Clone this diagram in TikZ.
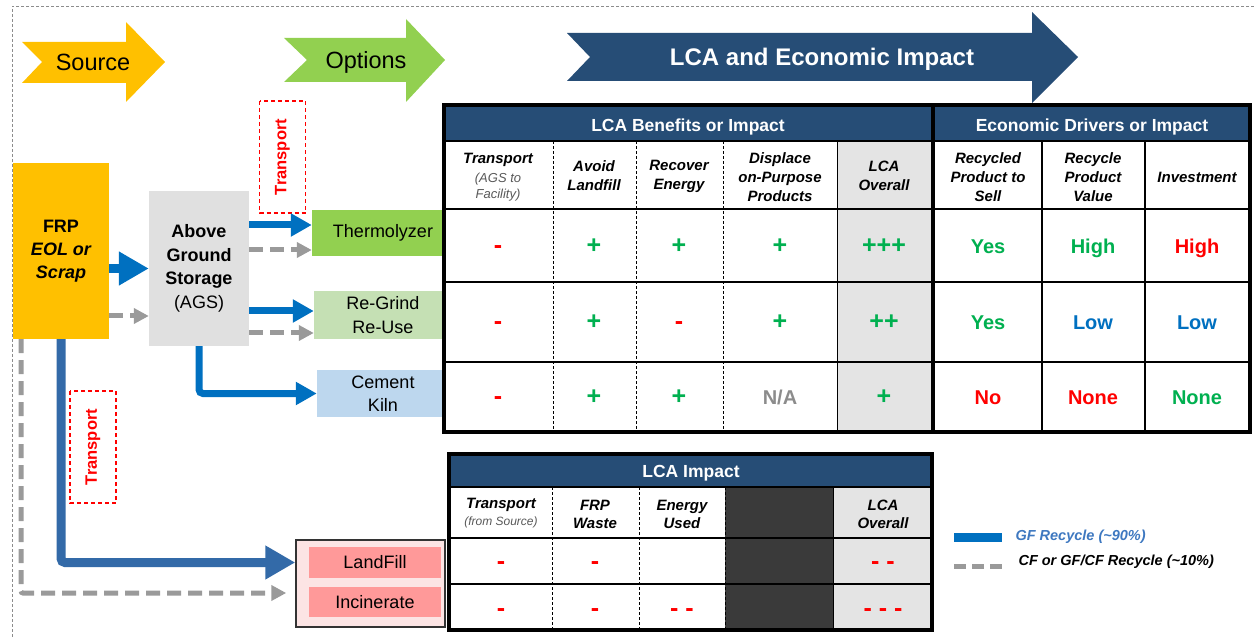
\documentclass[tikz,border=0pt]{standalone}
\usepackage{fontspec}
\setmainfont{Liberation Sans}
\usepackage{xcolor}
\usetikzlibrary{arrows.meta}

\definecolor{srcyellow}{HTML}{FFC000}
\definecolor{optgreen}{HTML}{92D050}
\definecolor{lcablue}{HTML}{264D76}
\definecolor{grindgreen}{HTML}{C5E0B4}
\definecolor{kilnblue}{HTML}{BDD7EE}
\definecolor{fillred}{HTML}{FF9999}
\definecolor{fillpink}{HTML}{FCE4E4}
\definecolor{flowblue}{HTML}{0070C0}
\definecolor{steelblue}{HTML}{336AA8}
\definecolor{flowgray}{HTML}{9A9A9A}
\definecolor{goodgreen}{HTML}{00B050}
\definecolor{cellgray}{HTML}{E4E4E4}
\definecolor{darkcell}{HTML}{3A3A3A}
\definecolor{legendblue}{HTML}{3E78C0}

\begin{document}
\begin{tikzpicture}[x=1pt,y=-1pt,
    box/.style={inner sep=0pt, align=center, font=\fontsize{18}{23}\selectfont},
    blueflow/.style={draw=flowblue, line width=7pt, -{Triangle[length=21pt,width=22pt]}},
    bigflow/.style={draw=flowblue, line width=9pt, -{Triangle[length=30pt,width=32pt]}},
    grayflow/.style={draw=flowgray, line width=5pt, dash pattern=on 14pt off 7pt, -{Triangle[length=15pt,width=15pt]}},
    transportbox/.style={draw=red, dash pattern=on 4pt off 3pt, line width=1.3pt, text=red, rotate=90,
      minimum width=112pt, minimum height=46pt, inner sep=0pt, font=\bfseries\fontsize{16.5}{18}\selectfont},
    banner/.style={text depth=0pt, font=\fontsize{23.5}{26}\selectfont},
    band/.style={text=white, text depth=0pt, font=\bfseries\fontsize{17.5}{20}\selectfont},
    hdr/.style={align=center, font=\bfseries\itshape\fontsize{15}{19}\selectfont},
    subhdr/.style={align=center, text=black!65, font=\itshape\fontsize{13}{16}\selectfont},
    val/.style={text height=14pt, text depth=0pt, font=\bfseries\fontsize{20}{22}\selectfont},
    sym/.style={text height=14pt, text depth=0pt, font=\bfseries\fontsize{25}{26}\selectfont},
  ]
\useasboundingbox (0,0) rectangle (1254,639);

% Frame
\draw[black!45, dash pattern=on 3pt off 2pt, line width=0.8pt] (1254,6) -- (12,6) -- (12,639);

% Banner arrows
\fill[srcyellow] (22,42) -- (126,42) -- (126,22) -- (165,62) -- (126,102) -- (126,83) -- (22,83) -- (42,62) -- cycle;
\node[banner] (src) at (93,62) {Source};
\fill[optgreen] (284,38) -- (406,38) -- (406,19) -- (445,60) -- (406,102) -- (406,82) -- (284,82) -- (307,60) -- cycle;
\node[banner] (opt) at (366,60) {Options};
\fill[lcablue] (567,33) -- (1032,33) -- (1032,12) -- (1078,57) -- (1032,103) -- (1032,81) -- (567,81) -- (590,57) -- cycle;
\node[banner, text=white, font=\bfseries\fontsize{24}{26}\selectfont] (lca) at (822,57) {LCA and Economic Impact};

% Source and storage
\node[box, fill=srcyellow, minimum width=96pt, minimum height=176pt, font=\bfseries\fontsize{18}{23}\selectfont]
  (frp) at (61,251) {FRP\\\itshape EOL or\\\itshape Scrap};
\node[box, fill=black!12, minimum width=100pt, minimum height=155pt, font=\bfseries\fontsize{18}{23.5}\selectfont]
  (ags) at (199,268.5) {Above\\Ground\\Storage\\\mdseries(AGS)};

% Options
\node[box, fill=optgreen, minimum width=142pt, minimum height=46pt] (therm) at (383,233) {Thermolyzer};
\node[box, fill=grindgreen, minimum width=138pt, minimum height=48pt, font=\fontsize{18}{24}\selectfont] (grind) at (383,315) {Re-Grind\\Re-Use};
\node[box, fill=kilnblue, minimum width=132pt, minimum height=47pt] (kiln) at (383,393.5) {Cement\\Kiln};

% Disposal
\node[draw=black!80, line width=1.5pt, fill=fillpink, minimum width=149pt, minimum height=87pt] (bin) at (370.5,583.5) {};
\node[box, fill=fillred, minimum width=132pt, minimum height=31pt] (landfill) at (375,562.5) {LandFill};
\node[box, fill=fillred, minimum width=132pt, minimum height=30pt] (incin) at (375,602) {Incinerate};

% Transport tags
\node[transportbox] (tr1) at (282.5,157) {Transport};
\node[transportbox] (tr2) at (93,447) {Transport};

% Flows
\draw[bigflow] (frp.east |- ags.west) -- (ags.west);
\draw[grayflow] (frp.east |- 0,316) -- (ags.west |- 0,316);
\draw[blueflow] (ags.east |- 0,225) -- (therm.west |- 0,225);
\draw[grayflow] (ags.east |- 0,250) -- (therm.west |- 0,250);
\draw[blueflow] (ags.east |- 0,311) -- (grind.west |- 0,311);
\draw[grayflow] (ags.east |- 0,333) -- (grind.west |- 0,333);
\draw[blueflow, rounded corners=4pt] (ags.south) |- (kiln.west);
\draw[bigflow, draw=steelblue, rounded corners=4pt] (frp.south) |- (bin.west |- landfill.west);
\draw[grayflow, rounded corners=2pt] ([xshift=-40pt]frp.south) |- ([xshift=-9pt]bin.west |- 0,593);

% LCA benefits and economic table
\fill[white] (444,105) rectangle (1250,432);
\fill[cellgray] (837,141) rectangle (933,432);
\fill[lcablue] (444,105) rectangle (1250,141);
\foreach \y in {141,209,282,362}
  \draw[line width=1.5pt] (444,\y) -- (1250,\y);
\foreach \x in {553,636,723}
  \draw[line width=1pt, dash pattern=on 3pt off 2pt] (\x,141) -- (\x,432);
\draw[line width=1pt] (837,141) -- (837,432);
\foreach \x in {1042,1145}
  \draw[line width=1.5pt] (\x,141) -- (\x,432);
\draw[line width=4pt] (933,105) -- (933,432);
\draw[line width=4pt] (444,105) rectangle (1250,432);

\node[band] (lcahead) at (688,125) {LCA Benefits or Impact};
\node[band] (ecohead) at (1092,125) {Economic Drivers or Impact};

\node[hdr] (h1) at (498,160) {Transport};
\node[subhdr] (h1s) at (498,187) {(AGS to\\Facility)};
\node[hdr] (h2) at (594,176) {Avoid\\Landfill};
\node[hdr] (h3) at (679,176) {Recover\\Energy};
\node[hdr] (h4) at (780,177) {Displace\\on-Purpose\\Products};
\node[hdr] (h5) at (884,176) {LCA\\Overall};
\node[hdr] (h6) at (988,177) {Recycled\\Product to\\Sell};
\node[hdr] (h7) at (1093,177) {Recycle\\Product\\Value};
\node[hdr] (h8) at (1197,177) {Investment};

\foreach \x/\v/\c/\s [count=\i] in {498/-/red/sym, 594/+/goodgreen/sym, 679/+/goodgreen/sym, 780/+/goodgreen/sym,
    884/+++/goodgreen/sym, 988/Yes/goodgreen/val, 1093/High/goodgreen/val, 1197/High/red/val}
  \node[\s, text=\c] (ra\i) at (\x,247) {\v};
\foreach \x/\v/\c/\s [count=\i] in {498/-/red/sym, 594/+/goodgreen/sym, 679/-/red/sym, 780/+/goodgreen/sym,
    884/++/goodgreen/sym, 988/Yes/goodgreen/val, 1093/Low/flowblue/val, 1197/Low/flowblue/val}
  \node[\s, text=\c] (rb\i) at (\x,323) {\v};
\foreach \x/\v/\c/\s [count=\i] in {498/-/red/sym, 594/+/goodgreen/sym, 679/+/goodgreen/sym, 780/{N/A}/black!45/val,
    884/+/goodgreen/sym, 988/No/red/val, 1093/None/red/val, 1197/None/goodgreen/val}
  \node[\s, text=\c] (rc\i) at (\x,397) {\v};

% LCA impact table
\fill[white] (449,454) rectangle (932,630);
\fill[darkcell] (725,487) rectangle (833,630);
\fill[cellgray] (833,487) rectangle (932,630);
\fill[lcablue] (449,454) rectangle (932,487);
\foreach \y in {487,538,584}
  \draw[line width=1.5pt] (449,\y) -- (932,\y);
\foreach \x in {552,639,725}
  \draw[line width=1pt, dash pattern=on 3pt off 2pt] (\x,487) -- (\x,630);
\draw[line width=1pt] (833,487) -- (833,630);
\draw[line width=4pt] (449,454) rectangle (932,630);

\node[band] (imphead) at (691,471) {LCA Impact};
\node[hdr] (i1) at (501,505) {Transport};
\node[subhdr, font=\itshape\fontsize{12}{14}\selectfont] (i1s) at (501,522) {(from Source)};
\node[hdr, font=\bfseries\itshape\fontsize{15}{18}\selectfont] (i2) at (595,514) {FRP\\Waste};
\node[hdr, font=\bfseries\itshape\fontsize{15}{18}\selectfont] (i3) at (682,514) {Energy\\Used};
\node[hdr, font=\bfseries\itshape\fontsize{15}{18}\selectfont] (i5) at (883,514) {LCA\\Overall};

\foreach \x/\v [count=\i] in {501/-, 595/-, 883/{- -}}
  \node[sym, text=red] (sa\i) at (\x,562) {\v};
\foreach \x/\v [count=\i] in {501/-, 595/-, 682/{- -}, 883/{- - -}}
  \node[sym, text=red] (sb\i) at (\x,609) {\v};

% Legend
\node[anchor=west, text=legendblue, font=\bfseries\itshape\fontsize{14.5}{17}\selectfont] (lg1) at (1012,537) {GF Recycle (\textasciitilde90\%)};
\node[anchor=west, font=\bfseries\itshape\fontsize{14.5}{17}\selectfont] (lg2) at (1015,562) {CF or GF/CF Recycle (\textasciitilde10\%)};
\draw[flowblue, line width=9pt] ([xshift=-58pt]lg1.west) -- ([xshift=-10pt]lg1.west);
\draw[flowgray, line width=5pt, dash pattern=on 12pt off 6pt] ([xshift=-61pt,yshift=-4pt]lg2.west) -- ([xshift=-13pt,yshift=-4pt]lg2.west);
\end{tikzpicture}
\end{document}
